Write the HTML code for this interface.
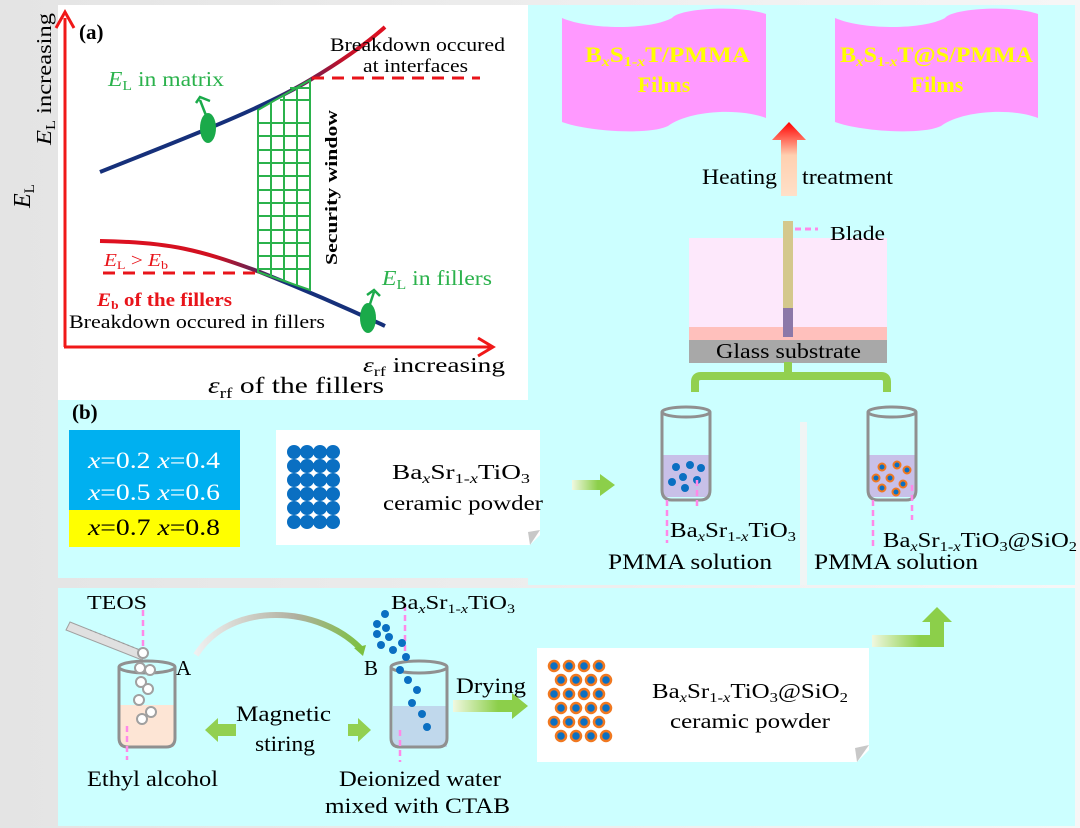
<!DOCTYPE html>
<html><head><meta charset="utf-8"><style>
html,body{margin:0;padding:0;width:1080px;height:828px;overflow:hidden;background:#fff}
svg{display:block}
text{font-family:"Liberation Serif",serif}
</style></head><body>
<svg width="1080" height="828" viewBox="0 0 1080 828" xmlns="http://www.w3.org/2000/svg">
<defs>
<linearGradient id="bg" x1="0" x2="1" y1="0" y2="0"><stop offset="0" stop-color="#e4e4e4"/><stop offset="1" stop-color="#f6f6f6"/></linearGradient>
<linearGradient id="heat" x1="0" x2="0" y1="0" y2="1"><stop offset="0" stop-color="#ff0000"/><stop offset="0.45" stop-color="#ffd0b0"/><stop offset="1" stop-color="#ffe0c8"/></linearGradient>
<linearGradient id="ga" x1="0" x2="1"><stop offset="0" stop-color="#f0f8e0"/><stop offset="0.6" stop-color="#8ccf4a"/></linearGradient>
<linearGradient id="upper" x1="0" x2="1"><stop offset="0" stop-color="#16307a"/><stop offset="0.6" stop-color="#16307a"/><stop offset="0.85" stop-color="#c0102a"/><stop offset="1" stop-color="#e01020"/></linearGradient>
<linearGradient id="lower" x1="0" x2="1"><stop offset="0" stop-color="#e01020"/><stop offset="0.4" stop-color="#d01020"/><stop offset="0.65" stop-color="#16307a"/><stop offset="1" stop-color="#16307a"/></linearGradient>
<linearGradient id="arc" x1="0" x2="1"><stop offset="0" stop-color="#f0f0f0"/><stop offset="0.6" stop-color="#b0b0a0"/><stop offset="1" stop-color="#7cc040"/></linearGradient>
</defs>
<rect width="1080" height="828" fill="url(#bg)"/>
<rect x="528" y="5" width="547" height="580" fill="#ccffff"/>
<rect x="58" y="398" width="742" height="180" fill="#ccffff"/>
<rect x="800" y="422" width="7" height="163" fill="#f0f4f4"/>
<rect x="58" y="588" width="1017" height="238" fill="#ccffff"/>
<rect x="58" y="5" width="470" height="395" fill="#fff"/>

<!-- Panel a -->
<g>
<path d="M100,172 C180,140 260,110 310,80 C340,62 365,45 385,27" fill="none" stroke="url(#upper)" stroke-width="4"/>
<path d="M100,241 C170,242 200,250 260,272 C300,288 340,305 385,326" fill="none" stroke="url(#lower)" stroke-width="4"/>
<g stroke="#2bb24c" stroke-width="2" fill="none">
<path d="M258,110 L310,80 L310,290 L258,272 Z"/>
<path d="M258,110 V272 M271,103 V276 M284,96 V281 M297,88 V285"/>
<path d="M258,123 H310 M258,136 H310 M258,150 H310 M258,163 H310 M258,176 H310 M258,190 H310 M258,203 H310 M258,216 H310 M258,230 H310 M258,243 H310 M258,256 H310 M258,269 H310 M280,100 H310 M290,88 H310"/>
</g>
<line x1="312" y1="78" x2="480" y2="78" stroke="#e8141a" stroke-width="3" stroke-dasharray="12,8"/>
<line x1="103" y1="273" x2="258" y2="273" stroke="#e8141a" stroke-width="3" stroke-dasharray="12,8"/>
<ellipse cx="208" cy="128" rx="8" ry="15" fill="#1aaa4a"/>
<path d="M207,118 L200,100 M196,103 L200,97 L210,101" stroke="#1aaa4a" stroke-width="2.5" fill="none"/>
<ellipse cx="368" cy="318" rx="8" ry="15" fill="#1aaa4a"/>
<path d="M368,310 L374,292 M367,295 L374,290 L380,296" stroke="#1aaa4a" stroke-width="2.5" fill="none"/>
<line x1="65" y1="18" x2="65" y2="347" stroke="#f01818" stroke-width="3"/>
<line x1="64" y1="347" x2="490" y2="347" stroke="#f01818" stroke-width="3"/>
<path d="M56,28 L65,12 L74,28" stroke="#f01818" stroke-width="3" fill="none"/>
<path d="M478,338 L493,347 L478,356" stroke="#f01818" stroke-width="3" fill="none"/>
<text x="79" y="39" font-size="21" font-weight="bold">(a)</text>
<text x="330" y="51" font-size="19" textLength="175" lengthAdjust="spacingAndGlyphs">Breakdown occured</text>
<text x="363" y="72" font-size="19" textLength="105" lengthAdjust="spacingAndGlyphs">at interfaces</text>
<text x="108" y="86" font-size="21" fill="#2bb24c" textLength="116" lengthAdjust="spacingAndGlyphs"><tspan font-style="italic">E</tspan><tspan font-size="14" dy="4">L</tspan><tspan dy="-4"> in matrix</tspan></text>
<text x="382" y="285" font-size="21" fill="#2bb24c" textLength="110" lengthAdjust="spacingAndGlyphs"><tspan font-style="italic">E</tspan><tspan font-size="14" dy="4">L</tspan><tspan dy="-4"> in fillers</tspan></text>
<text x="104" y="266" font-size="18" fill="#e8141a" textLength="64" lengthAdjust="spacingAndGlyphs"><tspan font-style="italic">E</tspan><tspan font-size="12" dy="3">L</tspan><tspan dy="-3"> &gt; </tspan><tspan font-style="italic">E</tspan><tspan font-size="12" dy="3">b</tspan></text>
<text x="97" y="306" font-size="19" font-weight="bold" fill="#e8141a" textLength="135" lengthAdjust="spacingAndGlyphs"><tspan font-style="italic">E</tspan><tspan font-size="12" dy="3">b</tspan><tspan dy="-3"> of the fillers</tspan></text>
<text x="69" y="328" font-size="19" textLength="256" lengthAdjust="spacingAndGlyphs">Breakdown occured in fillers</text>
<text transform="translate(337,265) rotate(-90)" font-size="17" font-weight="bold" textLength="155" lengthAdjust="spacingAndGlyphs">Security window</text>
<text x="363" y="372" font-size="21" textLength="142" lengthAdjust="spacingAndGlyphs"><tspan font-style="italic">ε</tspan><tspan font-size="14" dy="4">rf</tspan><tspan dy="-4"> increasing</tspan></text>
<text x="208" y="393" font-size="23" textLength="176" lengthAdjust="spacingAndGlyphs"><tspan font-style="italic">ε</tspan><tspan font-size="15" dy="5">rf</tspan><tspan dy="-5"> of the fillers</tspan></text>
<text transform="translate(51,145) rotate(-90)" font-size="21" textLength="132" lengthAdjust="spacingAndGlyphs"><tspan font-style="italic">E</tspan><tspan font-size="14" dy="4">L</tspan><tspan dy="-4"> increasing</tspan></text>
<text transform="translate(30,208) rotate(-90)" font-size="24"><tspan font-style="italic">E</tspan><tspan font-size="15" dy="4">L</tspan></text>
</g>

<!-- Films -->
<path d="M562,18 C590,30 650,30 672,18 C680,8 740,5 766,14 L766,118 C740,108 690,110 668,126 C650,135 590,132 562,122 Z" fill="#ff99ff"/>
<path d="M835,18 C863,30 923,30 945,18 C953,8 1013,5 1038,14 L1038,118 C1013,108 963,110 941,126 C923,135 863,132 835,122 Z" fill="#ff99ff"/>
<text x="585" y="62" font-size="22" font-weight="bold" fill="#ffff00" textLength="165" lengthAdjust="spacingAndGlyphs">B<tspan font-size="14" font-style="italic" dy="4">x</tspan><tspan dy="-4">S</tspan><tspan font-size="14" dy="4">1-<tspan font-style="italic">x</tspan></tspan><tspan dy="-4">T/PMMA</tspan></text>
<text x="664" y="92" font-size="22" font-weight="bold" fill="#ffff00" text-anchor="middle">Films</text>
<text x="840" y="62" font-size="22" font-weight="bold" fill="#ffff00" textLength="193" lengthAdjust="spacingAndGlyphs">B<tspan font-size="14" font-style="italic" dy="4">x</tspan><tspan dy="-4">S</tspan><tspan font-size="14" dy="4">1-<tspan font-style="italic">x</tspan></tspan><tspan dy="-4">T@S/PMMA</tspan></text>
<text x="937" y="92" font-size="22" font-weight="bold" fill="#ffff00" text-anchor="middle">Films</text>
<path d="M772,140 L789,122 L806,140 L797,140 L797,196 L781,196 L781,140 Z" fill="url(#heat)"/>
<text x="702" y="184" font-size="22" textLength="75" lengthAdjust="spacingAndGlyphs">Heating</text>
<text x="802" y="184" font-size="22" textLength="91" lengthAdjust="spacingAndGlyphs">treatment</text>
<rect x="689" y="238" width="198" height="90" fill="#fde8fb"/>
<rect x="689" y="327" width="198" height="14" fill="#ffc0bc"/>
<rect x="689" y="340" width="198" height="23" fill="#a8a8a8"/>
<text x="716" y="358" font-size="21" textLength="145" lengthAdjust="spacingAndGlyphs">Glass substrate</text>
<rect x="783" y="221" width="10" height="88" fill="#d4c88c"/>
<rect x="783" y="308" width="10" height="29" fill="#8c78a8"/>
<line x1="795" y1="229" x2="818" y2="229" stroke="#ff88e8" stroke-width="3" stroke-dasharray="6,4"/>
<text x="830" y="240" font-size="20" textLength="55" lengthAdjust="spacingAndGlyphs">Blade</text>
<path d="M695,392 V382 Q695,376 701,376 H881 Q887,376 887,382 V392 M788,376 V362" stroke="#92d050" stroke-width="8" fill="none"/>

<!-- Panel b -->
<text x="72" y="419" font-size="21" font-weight="bold">(b)</text>
<rect x="69" y="430" width="171" height="80" fill="#00b0f0"/>
<rect x="69" y="510" width="171" height="37" fill="#ffff00"/>
<text x="88" y="468" font-size="23" fill="#fff" font-style="italic" textLength="132" lengthAdjust="spacingAndGlyphs">x<tspan font-style="normal">=0.2 </tspan>x<tspan font-style="normal">=0.4</tspan></text>
<text x="88" y="500" font-size="23" fill="#fff" font-style="italic" textLength="132" lengthAdjust="spacingAndGlyphs">x<tspan font-style="normal">=0.5 </tspan>x<tspan font-style="normal">=0.6</tspan></text>
<text x="88" y="535" font-size="23" fill="#000" font-style="italic" textLength="132" lengthAdjust="spacingAndGlyphs">x<tspan font-style="normal">=0.7 </tspan>x<tspan font-style="normal">=0.8</tspan></text>
<path d="M276,430 H540 V535 L530,545 H276 Z" fill="#fff"/>
<path d="M540,530 L530,545 L528,532 Z" fill="#c8c8c8"/>
<g fill="#0a6fc2">
<circle cx="294" cy="452" r="7"/><circle cx="307" cy="452" r="7"/><circle cx="320" cy="452" r="7"/><circle cx="333" cy="452" r="7"/>
<circle cx="294" cy="466" r="7"/><circle cx="307" cy="466" r="7"/><circle cx="320" cy="466" r="7"/><circle cx="333" cy="466" r="7"/>
<circle cx="294" cy="480" r="7"/><circle cx="307" cy="480" r="7"/><circle cx="320" cy="480" r="7"/><circle cx="333" cy="480" r="7"/>
<circle cx="294" cy="494" r="7"/><circle cx="307" cy="494" r="7"/><circle cx="320" cy="494" r="7"/><circle cx="333" cy="494" r="7"/>
<circle cx="294" cy="508" r="7"/><circle cx="307" cy="508" r="7"/><circle cx="320" cy="508" r="7"/><circle cx="333" cy="508" r="7"/>
<circle cx="294" cy="522" r="7"/><circle cx="307" cy="522" r="7"/><circle cx="320" cy="522" r="7"/><circle cx="333" cy="522" r="7"/>
</g>
<text x="392" y="479" font-size="21" textLength="138" lengthAdjust="spacingAndGlyphs">Ba<tspan font-size="14" font-style="italic" dy="4">x</tspan><tspan dy="-4">Sr</tspan><tspan font-size="14" dy="4">1-<tspan font-style="italic">x</tspan></tspan><tspan dy="-4">TiO</tspan><tspan font-size="14" dy="4">3</tspan></text>
<text x="383" y="510" font-size="21" textLength="160" lengthAdjust="spacingAndGlyphs">ceramic powder</text>
<path d="M572,480 H600 V474 L615,485 L600,496 V490 H572 Z" fill="url(#ga)"/>
<g>
<rect x="662" y="455" width="48" height="42" fill="#c8c0e8"/>
<path d="M662,412 V490 Q662,500 672,500 H700 Q710,500 710,490 V412" stroke="#909090" stroke-width="3" fill="none"/>
<ellipse cx="686" cy="412" rx="24" ry="5" stroke="#909090" stroke-width="3" fill="none"/>
<g fill="#0a6fc2"><circle cx="676" cy="467" r="4"/><circle cx="690" cy="465" r="4"/><circle cx="701" cy="468" r="4"/><circle cx="683" cy="477" r="4"/><circle cx="697" cy="480" r="4"/><circle cx="672" cy="482" r="4"/><circle cx="685" cy="488" r="4"/></g>
<line x1="667" y1="500" x2="667" y2="543" stroke="#ff88e8" stroke-width="2.5" stroke-dasharray="6,4"/>
<line x1="697" y1="480" x2="697" y2="510" stroke="#ff88e8" stroke-width="2.5" stroke-dasharray="6,4"/>
</g>
<g>
<rect x="868" y="455" width="48" height="42" fill="#c8c0e8"/>
<path d="M868,412 V490 Q868,500 878,500 H906 Q916,500 916,490 V412" stroke="#909090" stroke-width="3" fill="none"/>
<ellipse cx="892" cy="412" rx="24" ry="5" stroke="#909090" stroke-width="3" fill="none"/>
<g fill="#0a6fc2" stroke="#f07820" stroke-width="2"><circle cx="882" cy="467" r="3.5"/><circle cx="897" cy="465" r="3.5"/><circle cx="907" cy="470" r="3.5"/><circle cx="876" cy="478" r="3.5"/><circle cx="890" cy="478" r="3.5"/><circle cx="903" cy="484" r="3.5"/><circle cx="882" cy="488" r="3.5"/><circle cx="896" cy="492" r="3.5"/></g>
<line x1="873" y1="500" x2="873" y2="548" stroke="#ff88e8" stroke-width="2.5" stroke-dasharray="6,4"/>
<line x1="912" y1="485" x2="912" y2="520" stroke="#ff88e8" stroke-width="2.5" stroke-dasharray="6,4"/>
</g>
<text x="670" y="537" font-size="21" textLength="126" lengthAdjust="spacingAndGlyphs">Ba<tspan font-size="14" font-style="italic" dy="4">x</tspan><tspan dy="-4">Sr</tspan><tspan font-size="14" dy="4">1-<tspan font-style="italic">x</tspan></tspan><tspan dy="-4">TiO</tspan><tspan font-size="14" dy="4">3</tspan></text>
<text x="883" y="547" font-size="21" textLength="194" lengthAdjust="spacingAndGlyphs">Ba<tspan font-size="14" font-style="italic" dy="4">x</tspan><tspan dy="-4">Sr</tspan><tspan font-size="14" dy="4">1-<tspan font-style="italic">x</tspan></tspan><tspan dy="-4">TiO</tspan><tspan font-size="14" dy="4">3</tspan><tspan dy="-4">@SiO</tspan><tspan font-size="14" dy="4">2</tspan></text>
<text x="608" y="569" font-size="22" textLength="164" lengthAdjust="spacingAndGlyphs">PMMA solution</text>
<text x="814" y="569" font-size="22" textLength="164" lengthAdjust="spacingAndGlyphs">PMMA solution</text>

<!-- bottom -->
<text x="87" y="609" font-size="20" textLength="60" lengthAdjust="spacingAndGlyphs">TEOS</text>
<line x1="143" y1="610" x2="143" y2="660" stroke="#ff88e8" stroke-width="2.5" stroke-dasharray="6,4"/>
<path d="M70,622 L145,652 L142,660 L66,630 Z" fill="#e0e0e0" stroke="#a0a0a0"/>
<path d="M90,630 L140,650" stroke="#999" stroke-dasharray="2,3"/>
<rect x="120" y="705" width="54" height="42" fill="#fde5d5"/>
<path d="M119,667 V738 Q119,747 128,747 H166 Q175,747 175,738 V667" stroke="#909090" stroke-width="3" fill="none"/>
<ellipse cx="147" cy="667" rx="28" ry="6" stroke="#909090" stroke-width="3" fill="none"/>
<g fill="#fff" stroke="#a0a0a0" stroke-width="2"><circle cx="143" cy="653" r="5"/><circle cx="140" cy="668" r="5"/><circle cx="150" cy="670" r="5"/><circle cx="141" cy="682" r="5"/><circle cx="148" cy="689" r="5"/><circle cx="139" cy="700" r="5"/><circle cx="151" cy="712" r="5"/><circle cx="142" cy="719" r="5"/></g>
<line x1="127" y1="726" x2="127" y2="760" stroke="#ff88e8" stroke-width="2.5" stroke-dasharray="6,4"/>
<text x="176" y="675" font-size="21">A</text>
<path d="M196,655 C230,600 320,605 362,650" stroke="url(#arc)" stroke-width="6" fill="none"/>
<path d="M354,648 L363,656 L366,645 Z" fill="#7cc040"/>
<text x="364" y="675" font-size="21">B</text>
<text x="87" y="786" font-size="22" textLength="131" lengthAdjust="spacingAndGlyphs">Ethyl alcohol</text>
<text x="236" y="721" font-size="22" textLength="95" lengthAdjust="spacingAndGlyphs">Magnetic</text>
<text x="255" y="751" font-size="22" textLength="60" lengthAdjust="spacingAndGlyphs">stiring</text>
<path d="M218,724 H236 V736 H218 V742 L205,730 L218,718 Z" fill="#92d050"/>
<path d="M348,724 H358 V718 L371,730 L358,742 V736 H348 Z" fill="#92d050"/>
<rect x="393" y="706" width="54" height="41" fill="#c0d8ec"/>
<path d="M391,667 V738 Q391,747 400,747 H438 Q447,747 447,738 V667" stroke="#909090" stroke-width="3" fill="none"/>
<ellipse cx="419" cy="667" rx="28" ry="6" stroke="#909090" stroke-width="3" fill="none"/>
<line x1="405" y1="605" x2="405" y2="660" stroke="#ff88e8" stroke-width="2.5" stroke-dasharray="6,4"/>
<line x1="400" y1="730" x2="400" y2="762" stroke="#ff88e8" stroke-width="2.5" stroke-dasharray="6,4"/>
<g fill="#0a6fc2"><circle cx="385" cy="614" r="4"/><circle cx="377" cy="624" r="4"/><circle cx="386" cy="628" r="4"/><circle cx="377" cy="634" r="4"/><circle cx="389" cy="637" r="4"/><circle cx="381" cy="645" r="4"/><circle cx="393" cy="650" r="4"/><circle cx="402" cy="643" r="4"/><circle cx="406" cy="657" r="4"/><circle cx="400" cy="670" r="4"/><circle cx="408" cy="680" r="4"/><circle cx="417" cy="690" r="4"/><circle cx="412" cy="703" r="4"/><circle cx="422" cy="714" r="4"/><circle cx="427" cy="727" r="4"/></g>
<text x="391" y="609" font-size="20" textLength="124" lengthAdjust="spacingAndGlyphs">Ba<tspan font-size="13" font-style="italic" dy="4">x</tspan><tspan dy="-4">Sr</tspan><tspan font-size="13" dy="4">1-<tspan font-style="italic">x</tspan></tspan><tspan dy="-4">TiO</tspan><tspan font-size="13" dy="4">3</tspan></text>
<text x="339" y="786" font-size="22" textLength="162" lengthAdjust="spacingAndGlyphs">Deionized water</text>
<text x="325" y="813" font-size="22" textLength="185" lengthAdjust="spacingAndGlyphs">mixed with CTAB</text>
<text x="456" y="693" font-size="22" textLength="70" lengthAdjust="spacingAndGlyphs">Drying</text>
<path d="M453,700 H512 V693 L528,706 L512,719 V712 H453 Z" fill="url(#ga)"/>
<path d="M537,648 H869 V750 L857,762 H537 Z" fill="#fff"/>
<path d="M869,745 L857,762 L855,748 Z" fill="#c8c8c8"/>
<g fill="#0a6fc2" stroke="#f07820" stroke-width="2.5">
<circle cx="554" cy="666" r="5"/><circle cx="569" cy="666" r="5"/><circle cx="584" cy="666" r="5"/><circle cx="599" cy="666" r="5"/>
<circle cx="561" cy="680" r="5"/><circle cx="576" cy="680" r="5"/><circle cx="591" cy="680" r="5"/><circle cx="606" cy="680" r="5"/>
<circle cx="554" cy="694" r="5"/><circle cx="569" cy="694" r="5"/><circle cx="584" cy="694" r="5"/><circle cx="599" cy="694" r="5"/>
<circle cx="561" cy="708" r="5"/><circle cx="576" cy="708" r="5"/><circle cx="591" cy="708" r="5"/><circle cx="606" cy="708" r="5"/>
<circle cx="554" cy="722" r="5"/><circle cx="569" cy="722" r="5"/><circle cx="584" cy="722" r="5"/><circle cx="599" cy="722" r="5"/>
<circle cx="561" cy="736" r="5"/><circle cx="576" cy="736" r="5"/><circle cx="591" cy="736" r="5"/><circle cx="606" cy="736" r="5"/>
</g>
<text x="652" y="698" font-size="21" textLength="196" lengthAdjust="spacingAndGlyphs">Ba<tspan font-size="14" font-style="italic" dy="4">x</tspan><tspan dy="-4">Sr</tspan><tspan font-size="14" dy="4">1-<tspan font-style="italic">x</tspan></tspan><tspan dy="-4">TiO</tspan><tspan font-size="14" dy="4">3</tspan><tspan dy="-4">@SiO</tspan><tspan font-size="14" dy="4">2</tspan></text>
<text x="670" y="728" font-size="21" textLength="160" lengthAdjust="spacingAndGlyphs">ceramic powder</text>
<path d="M872,635 H930 V622 H922 L937,607 L952,622 H944 V647 H872 Z" fill="url(#ga)"/>
</svg>
</body></html>
